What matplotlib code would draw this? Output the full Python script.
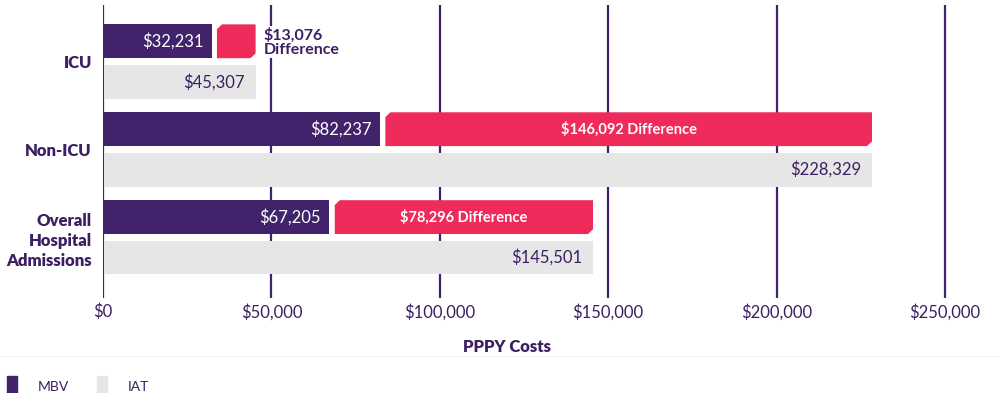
import matplotlib.pyplot as plt
from matplotlib.patches import Polygon, Patch
from matplotlib.lines import Line2D

# data
categories = ["ICU", "Non-ICU", "Overall\nHospital\nAdmissions"]
mbv = [32231, 82237, 67205]
iat = [45307, 228329, 145501]
xticks = [0, 50000, 100000, 150000, 200000, 250000]

PURPLE = "#41236b"
PINK = "#ee2b5b"
GRAY = "#e6e6e6"
TEXT = "#3b1f62"

plt.rcParams["font.family"] = ["Lato", "DejaVu Sans"]

fig = plt.figure(figsize=(10, 3.93), dpi=100)
ax = fig.add_axes([0.103, 0.2417, 0.842 * 252000 / 250000, 0.745])

ys = list(range(len(categories)))
off = 0.23
h = 0.385

# gridlines behind bars
for t in xticks:
    ax.axvline(t, color=PURPLE, lw=1.6, zorder=0)

ax.barh([y - off for y in ys], mbv, height=h, color=PURPLE, zorder=2)
ax.barh([y + off for y in ys], [v - 600 for v in iat], left=600, height=h, color=GRAY, zorder=2)

# pink difference bars with chamfered corners
gap = 1600
cx, cy = 1500, 0.055
for y, m, i in zip(ys, mbv, iat):
    x0, x1 = m + gap, i
    top, bot = y - off - h / 2, y - off + h / 2
    pts = [(x0 + cx, top), (x1, top), (x1, bot - cy), (x1 - cx, bot),
           (x0, bot), (x0, top + cy)]
    ax.add_patch(Polygon(pts, closed=True, color=PINK, zorder=2, lw=0))
    diff = i - m
    if x1 - x0 < 30000:
        # too narrow, put the label beside the bar
        ax.annotate(f"${diff:,}\nDifference", xy=(i, top), xytext=(6, -2),
                    textcoords="offset points", ha="left", va="top",
                    fontsize=11.5, fontweight="bold", color=TEXT,
                    linespacing=1.05, zorder=3,
                    bbox=dict(facecolor="white", edgecolor="none", pad=1))
    else:
        ax.text((x0 + x1) / 2, y - off, f"${diff:,} Difference", ha="center",
                va="center", fontsize=10.5, fontweight="bold", color="white", zorder=3)

    ax.annotate(f"${m:,}", xy=(m, y - off), xytext=(-6, 0), textcoords="offset points",
                ha="right", va="center", fontsize=12, color="white", zorder=3)
    ax.annotate(f"${i:,}", xy=(i, y + off), xytext=(-8, 0), textcoords="offset points",
                ha="right", va="center", fontsize=12, color=TEXT, zorder=3)

ax.set_xlim(0, 252000)
ax.set_ylim(2.69, -0.64)
ax.set_xticks(xticks)
ax.set_xticklabels([f"${t:,}" for t in xticks], fontsize=12, color=TEXT)
ax.tick_params(axis="x", length=0, pad=4)
ax.set_yticks(ys)
ax.set_yticklabels(categories, fontsize=12, fontweight="heavy", color=TEXT,
                   linespacing=1.32)
ax.tick_params(axis="y", length=0, pad=8)
for s in ax.spines.values():
    s.set_visible(False)

fig.text(0.507, 0.117, "PPPY Costs", ha="center", va="center", fontsize=12,
         fontweight="heavy", color=TEXT)

fig.add_artist(Line2D([0, 1], [0.093, 0.093], transform=fig.transFigure,
                      color="#f4f4f4", lw=0.8))

handles = [Patch(color=PURPLE, label="MBV"), Patch(color=GRAY, label="IAT")]
fig.legend(handles=handles, loc="lower left", bbox_to_anchor=(-0.006, -0.045), ncol=2,
           frameon=False, fontsize=10, handlelength=0.75, handleheight=2.1,
           handletextpad=1.5, columnspacing=2.0, labelcolor=TEXT)

fig.savefig("out.png", dpi=100)
